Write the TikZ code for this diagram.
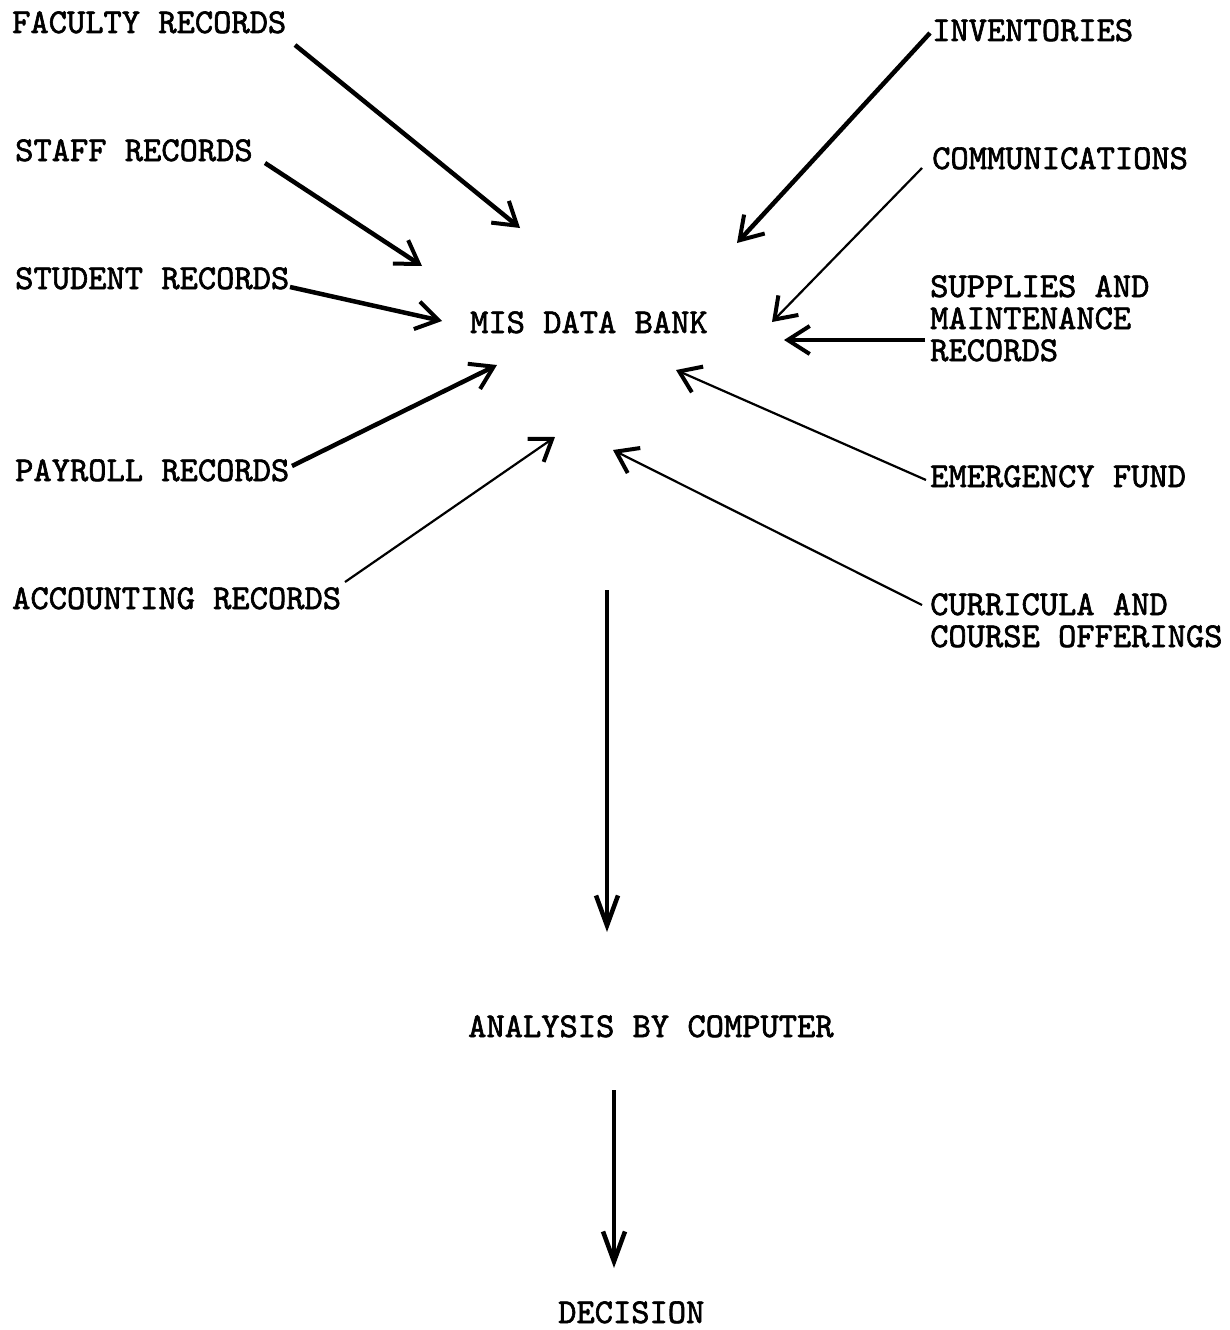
\documentclass[tikz,border=0pt]{standalone}
\usepackage{fontspec}
\setmonofont[FakeBold=1.8]{lmmono10-regular.otf}
\usetikzlibrary{arrows.meta}
\begin{document}
\begin{tikzpicture}[x=1pt,y=-1pt,
  lbl/.style={anchor=base west,inner sep=0pt,font=\fontsize{34.8}{32}\ttfamily,align=left},
  thickarr/.style={line width=4.5pt,-{Straight Barb[length=22pt,width=28pt,line width=4pt]}},
  thinarr/.style={line width=2.2pt,-{Straight Barb[length=20pt,width=28pt,line width=4pt]}},
  midarr/.style={line width=3.5pt,-{Straight Barb[length=30pt,width=22pt,line width=4.5pt]}}]
\useasboundingbox (0,0) rectangle (1230,1330);
\fill[white] (0,0) rectangle (1230,1330);
% labels
\node[lbl] (fac) at (12,33) {FACULTY RECORDS};
\node[lbl] (staff) at (15,161) {STAFF RECORDS};
\node[lbl] (stud) at (15,289) {STUDENT RECORDS};
\node[lbl] (mis) at (470,333) {MIS DATA BANK};
\node[lbl] (pay) at (15,481) {PAYROLL RECORDS};
\node[lbl] (acc) at (12,609) {ACCOUNTING RECORDS};
\node[lbl] (inv) at (932,41) {INVENTORIES};
\node[lbl] (comm) at (932,169) {COMMUNICATIONS};
\node[lbl] (sup1) at (930,297) {SUPPLIES AND};
\node[lbl] (sup2) at (930,329) {MAINTENANCE};
\node[lbl] (sup3) at (930,361) {RECORDS};
\node[lbl] (emer) at (930,487) {EMERGENCY FUND};
\node[lbl] (cur1) at (930,615) {CURRICULA AND};
\node[lbl] (cur2) at (930,647) {COURSE OFFERINGS};
\node[lbl] (ana) at (468,1037) {ANALYSIS BY COMPUTER};
\node[lbl] (dec) at (558,1323) {DECISION};
% connector end points
\coordinate (facS) at (295,45);   \coordinate (facE) at (520,228);
\coordinate (staS) at (265,163);  \coordinate (staE) at (422,266);
\coordinate (stuS) at (290,287);  \coordinate (stuE) at (442,321);
\coordinate (payS) at (292,466);  \coordinate (payE) at (497,365);
\coordinate (accS) at (345,582);  \coordinate (accE) at (555,437);
\coordinate (invS) at (930,33);   \coordinate (invE) at (737,243);
\coordinate (comS) at (922,168);  \coordinate (comE) at (772,322);
\coordinate (supS) at (925,340);  \coordinate (supE) at (784,340);
\coordinate (emeS) at (926,480);  \coordinate (emeE) at (676,370);
\coordinate (curS) at (922,605);  \coordinate (curE) at (613,450);
\coordinate (misS) at (607,590);  \coordinate (misE) at (607,932);
\coordinate (anaS) at (614,1090); \coordinate (anaE) at (614,1268);
% connectors
\draw[thickarr] (facS) -- (facE);
\draw[thickarr] (staS) -- (staE);
\draw[thickarr] (stuS) -- (stuE);
\draw[thickarr] (payS) -- (payE);
\draw[thinarr] (accS) -- (accE);
\draw[thickarr] (invS) -- (invE);
\draw[thinarr] (comS) -- (comE);
\draw[thickarr] (supS) -- (supE);
\draw[thinarr] (emeS) -- (emeE);
\draw[thinarr] (curS) -- (curE);
\draw[midarr] (misS) -- (misE);
\draw[midarr] (anaS) -- (anaE);
\end{tikzpicture}
\end{document}
